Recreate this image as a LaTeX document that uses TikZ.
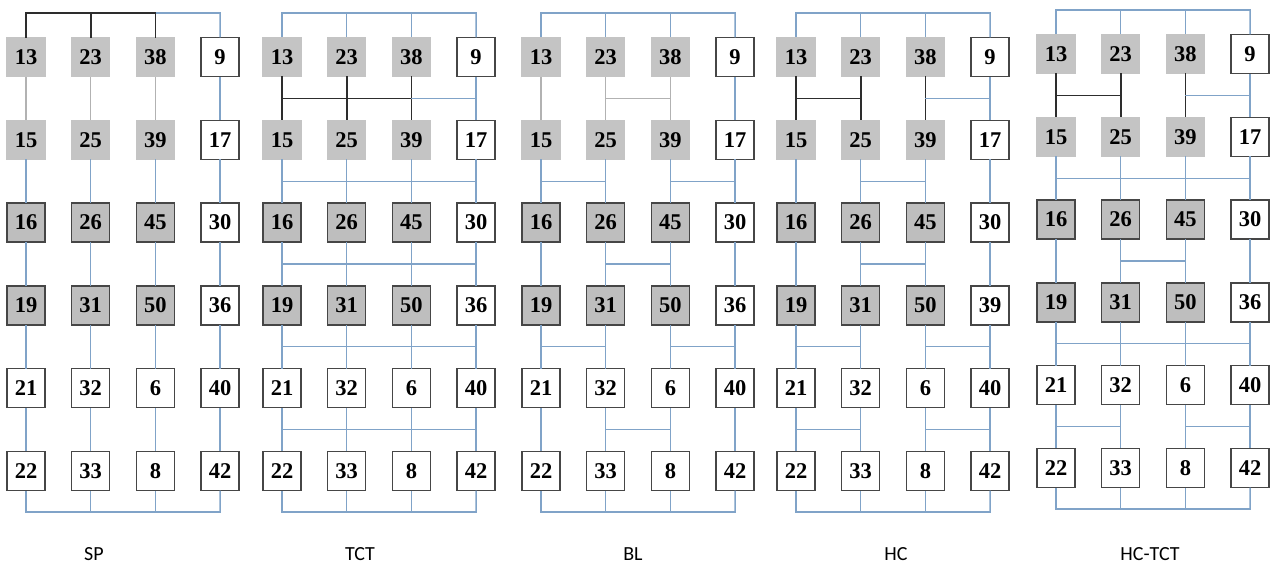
\documentclass[tikz,border=0pt]{standalone}
\usepackage{fontspec}
\setmainfont{Liberation Serif}
\newfontfamily\labfont{Carlito}

\definecolor{wireblue}{RGB}{128,163,200}
\definecolor{wiregray}{RGB}{178,178,178}
\definecolor{wireblack}{RGB}{45,45,45}
\definecolor{cellgray}{RGB}{196,196,196}
\definecolor{celldark}{RGB}{190,190,190}
\definecolor{celledge}{RGB}{70,70,70}

\tikzset{
  every picture/.style={line width=1.3pt},
  cell/.style={minimum width=38pt, minimum height=39pt, inner sep=0pt, line width=1.5pt,
    font=\fontsize{22.5}{22.5}\selectfont\bfseries},
  wire/.style={color=wireblue, line cap=rect},
  bwire/.style={color=wireblack, line width=1.7pt, line cap=rect},
  gwire/.style={color=wiregray, line cap=rect},
  tag/.style={font=\labfont\fontsize{20}{20}\selectfont},
}

\begin{document}
\begin{tikzpicture}[x=1pt,y=-1pt]
    \useasboundingbox (0,0) rectangle (1276,567);
    % cells of the five layouts
    \foreach \p/\px/\py/\lastnum in {1/26/57/36,2/282/57/36,3/541/57/36,4/796/57/39,5/1056/54/36}{
      \foreach \r/\na/\nb/\nc/\nd/\f/\g in {1/13/23/38/9/cellgray/cellgray,2/15/25/39/17/cellgray/cellgray,
          3/16/26/45/30/celldark/celledge,4/19/31/50/\lastnum/celldark/celledge,
          5/21/32/6/40/white/celledge,6/22/33/8/42/white/celledge}{
        \node[cell, fill=\f, draw=\g] (p\p-\r-1) at (\px,{\py+82.8*(\r-1)}) {\na};
        \node[cell, fill=\f, draw=\g] (p\p-\r-2) at ({\px+64.7},{\py+82.8*(\r-1)}) {\nb};
        \node[cell, fill=\f, draw=\g] (p\p-\r-3) at ({\px+129.4},{\py+82.8*(\r-1)}) {\nc};
        \node[cell, fill=white, draw=celledge] (p\p-\r-4) at ({\px+194.1},{\py+82.8*(\r-1)}) {\nd};
      }
      \foreach \k in {1,...,4}{
        \coordinate (p\p-t\k) at ({\px+64.7*(\k-1)},{\py-44});
        \coordinate (p\p-b\k) at ({\px+64.7*(\k-1)},{\py+455});
        \foreach \r in {1,...,5}
          \coordinate (p\p-g\r-\k) at ({\px+64.7*(\k-1)},{\py+82.8*(\r-1)+41.4});
      }
    }
    % wires shared by all layouts
    \foreach \p in {1,...,5}{
      \foreach \k in {1,...,4}{
        \foreach \r [evaluate=\r as \s using int(\r+1)] in {2,...,5}
          \draw[wire] (p\p-\r-\k) -- (p\p-\s-\k);
        \draw[wire] (p\p-6-\k) -- (p\p-b\k);
      }
      \draw[wire] (p\p-t4) -- (p\p-1-4);
      \draw[wire] (p\p-1-4) -- (p\p-2-4);
      \draw[wire] (p\p-b1) -- (p\p-b4);
    }
    % SP
    \draw[bwire] (p1-t1) -- (p1-t3);
    \draw[wire] (p1-t3) -- (p1-t4);
    \foreach \k in {1,2,3}{
      \draw[bwire] (p1-t\k) -- (p1-1-\k);
      \draw[gwire] (p1-1-\k) -- (p1-2-\k);
    }
    % top bus of the other layouts
    \foreach \p in {2,...,5}{
      \draw[wire] (p\p-t1) -- (p\p-t4);
      \foreach \k in {1,2,3}
        \draw[wire] (p\p-t\k) -- (p\p-1-\k);
    }
    % TCT
    \foreach \k in {1,2,3}
      \draw[bwire] (p2-1-\k) -- (p2-2-\k);
    \draw[bwire] (p2-g1-1) -- (p2-g1-3);
    \draw[wire] (p2-g1-3) -- (p2-g1-4);
    \foreach \r in {2,...,5}
      \draw[wire] (p2-g\r-1) -- (p2-g\r-4);
    % BL
    \foreach \k in {1,2,3}
      \draw[gwire] (p3-1-\k) -- (p3-2-\k);
    \draw[gwire] (p3-g1-2) -- (p3-g1-3);
    \foreach \r/\i/\j in {2/1/2,2/3/4,3/2/3,4/1/2,4/3/4,5/2/3}
      \draw[wire] (p3-g\r-\i) -- (p3-g\r-\j);
    % HC
    \foreach \k in {1,2,3}
      \draw[bwire] (p4-1-\k) -- (p4-2-\k);
    \draw[bwire] (p4-g1-1) -- (p4-g1-2);
    \foreach \r/\i/\j in {1/3/4,2/2/3,3/2/3,4/1/2,4/3/4,5/1/2,5/3/4}
      \draw[wire] (p4-g\r-\i) -- (p4-g\r-\j);
    % HC-TCT
    \foreach \k in {1,2,3}
      \draw[bwire] (p5-1-\k) -- (p5-2-\k);
    \draw[bwire] (p5-g1-1) -- (p5-g1-2);
    \foreach \r/\i/\j in {1/3/4,2/1/4,3/2/3,4/1/4,5/1/2,5/3/4}
      \draw[wire] (p5-g\r-\i) -- (p5-g\r-\j);
    % layout names
    \node[tag] (tag-sp) at (94,554) {SP};
    \node[tag] (tag-tct) at (360,554) {TCT};
    \node[tag] (tag-bl) at (633,554) {BL};
    \node[tag] (tag-hc) at (896,554) {HC};
    \node[tag] (tag-hctct) at (1150,554) {HC-TCT};
\end{tikzpicture}
\end{document}
